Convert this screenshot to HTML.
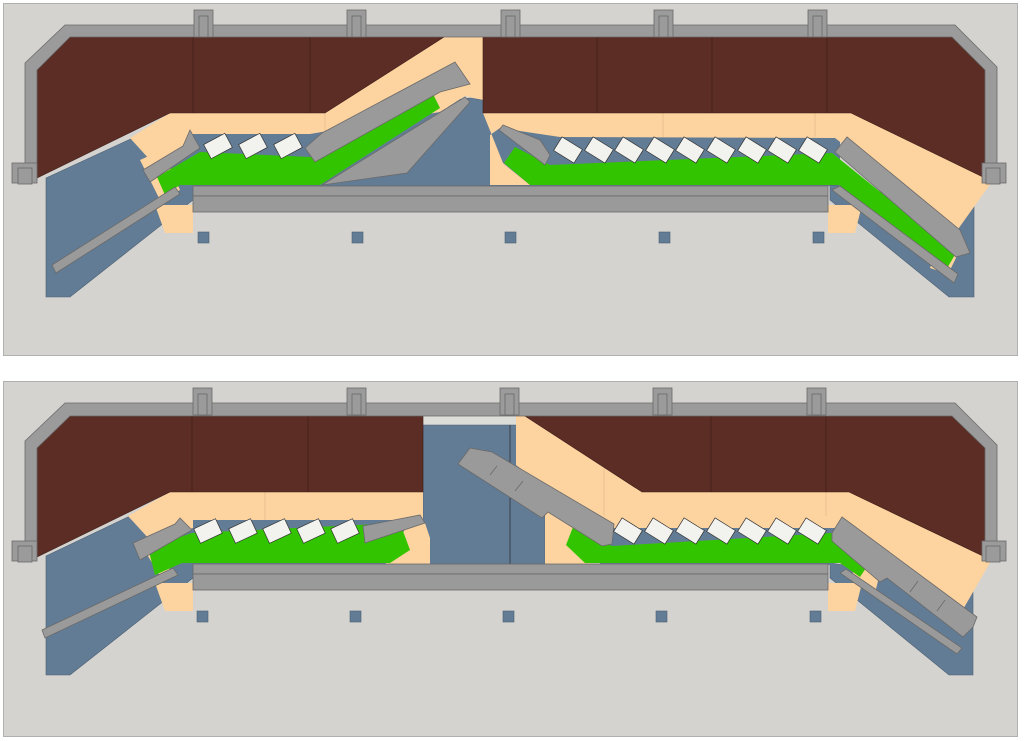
<!DOCTYPE html>
<html><head><meta charset="utf-8"><style>html,body{margin:0;padding:0;background:#fff}svg{display:block}</style></head>
<body>
<svg width="1024" height="741" viewBox="0 0 1024 741" xmlns="http://www.w3.org/2000/svg">
<defs>
<style>
.bg{fill:#d4d3cf;stroke:#b0b0ae;stroke-width:1}
.w{fill:#9b9b9b;stroke:#6a6a6a;stroke-width:0.8}
.br{fill:#5c2d25;stroke:#3e1e18;stroke-width:0.6}
.pe{fill:#fdd39f}
.bl{fill:#627c95;stroke:#4c5f72;stroke-width:0.6}
.bn{fill:#627c95}
.gr{fill:#33c400}
.g{fill:#9a9a9a;stroke:#6a6a6a;stroke-width:0.8}
.ch{fill:#f2f2ee;stroke:#333;stroke-width:0.7}
.ln{stroke:#3e1e18;stroke-width:0.7}
.pl{stroke:#e0b98a;stroke-width:0.7}
</style>
</defs>

<!-- ============ TOP PANEL ============ -->
<rect class="bg" x="3.5" y="3.5" width="1014" height="352"/>
<!-- blue areas -->
<polygon class="bl" points="46,178 135,137 193,133 470,98 483,100 500,112 500,185 193,200 70,297 46,297"/>
<rect class="bn" x="490" y="128" width="350" height="58"/>
<polygon class="bl" points="830,185 974,205 974,297 949,297 830,200"/>
<!-- peach -->
<polygon class="pe" points="130,138 170,113 325,113 444,37 483,37 483,100 465,96 440,112 310,134 193,134 193,150 150,160"/>
<polygon class="pe" points="483,113 851,113 987,178 991,183 956,232 835,138 560,137 500,128 490,135 490,185 530,185 503,163"/>
<polygon class="pe" points="140,160 162,150 180,190 160,200"/>
<polygon class="pe" points="155,205 193,205 193,233 165,233"/>
<polygon class="pe" points="828,205 862,205 855,233 828,233"/>
<polygon class="pe" points="940,240 960,250 948,274 930,268"/>
<polygon class="pe" points="428,86 445,85 448,108 438,110"/>
<line class="pl" x1="325" y1="113" x2="325" y2="134"/>
<line class="pl" x1="663" y1="113" x2="663" y2="137"/>
<line class="pl" x1="815" y1="113" x2="815" y2="137"/>
<!-- brown -->
<polygon class="br" points="37,178 37,70 70,37 444,37 325,113 170,113"/>
<polygon class="br" points="483,37 952,37 985,70 985,178 851,113 483,113"/>
<line class="ln" x1="193" y1="37" x2="193" y2="113"/>
<line class="ln" x1="310" y1="37" x2="310" y2="113"/>
<line class="ln" x1="597" y1="37" x2="597" y2="113"/>
<line class="ln" x1="712" y1="37" x2="712" y2="113"/>
<line class="ln" x1="827" y1="37" x2="827" y2="113"/>
<!-- green -->
<polygon class="gr" points="157,177 200,152 310,157 432,92 440,108 320,185 180,185 165,195"/>
<polygon class="gr" points="504,163 515,147 550,165 832,153 956,253 946,270 839,185 530,185"/>
<!-- gray pieces -->
<polygon class="g" points="322,185 465,97 470,102 407,173"/>
<polygon class="g" points="305,148 322,133 455,62 470,84 440,92 315,162"/>
<polygon class="g" points="143,170 183,146 190,130 200,148 150,182"/>
<polygon class="g" points="499,130 503,125 540,140 550,155 545,165"/>
<polygon class="g" points="835,152 847,137 960,230 970,253 956,257"/>
<polygon class="g" points="832,190 840,186 958,274 954,283"/>
<polygon class="g" points="52,265 175,187 180,194 56,273"/>
<!-- beam -->
<rect class="g" x="193" y="186" width="635" height="10"/>
<rect class="g" x="193" y="196" width="635" height="16"/>
<!-- chairs -->
<g class="ch">
<rect x="-12" y="-8" width="24" height="16" transform="translate(218,146) rotate(-28)"/>
<rect x="-12" y="-8" width="24" height="16" transform="translate(253,146) rotate(-28)"/>
<rect x="-12" y="-8" width="24" height="16" transform="translate(288,146) rotate(-28)"/>
<rect x="-12" y="-8" width="24" height="16" transform="translate(568,150) rotate(32)"/>
<rect x="-12" y="-8" width="24" height="16" transform="translate(599,150) rotate(32)"/>
<rect x="-12" y="-8" width="24" height="16" transform="translate(629,150) rotate(32)"/>
<rect x="-12" y="-8" width="24" height="16" transform="translate(660,150) rotate(32)"/>
<rect x="-12" y="-8" width="24" height="16" transform="translate(690,150) rotate(32)"/>
<rect x="-12" y="-8" width="24" height="16" transform="translate(721,150) rotate(32)"/>
<rect x="-12" y="-8" width="24" height="16" transform="translate(752,150) rotate(32)"/>
<rect x="-12" y="-8" width="24" height="16" transform="translate(782,150) rotate(32)"/>
<rect x="-12" y="-8" width="24" height="16" transform="translate(813,150) rotate(32)"/>
</g>
<!-- wall -->
<polygon class="w" points="25,178 25,63 65,25 955,25 997,67 997,178 985,178 985,70 952,37 70,37 37,70 37,178"/>
<rect class="w" x="12" y="163" width="25" height="20"/>
<rect class="w" x="18" y="168" width="14" height="16"/>
<rect class="w" x="982" y="163" width="24" height="20"/>
<rect class="w" x="986" y="168" width="14" height="16"/>
<g class="w">
<rect x="194" y="10" width="19" height="27"/><rect x="199" y="16" width="9" height="21"/>
<rect x="347" y="10" width="19" height="27"/><rect x="352" y="16" width="9" height="21"/>
<rect x="501" y="10" width="19" height="27"/><rect x="506" y="16" width="9" height="21"/>
<rect x="654" y="10" width="19" height="27"/><rect x="659" y="16" width="9" height="21"/>
<rect x="808" y="10" width="19" height="27"/><rect x="813" y="16" width="9" height="21"/>
</g>
<g class="bl">
<rect x="198" y="232" width="11" height="11"/><rect x="352" y="232" width="11" height="11"/>
<rect x="505" y="232" width="11" height="11"/><rect x="659" y="232" width="11" height="11"/>
<rect x="813" y="232" width="11" height="11"/>
</g>

<!-- ============ BOTTOM PANEL ============ -->
<rect class="bg" x="3.5" y="381.5" width="1014" height="355"/>
<g transform="translate(0,378)">
<!-- blue -->
<polygon class="bl" points="46,178 130,138 193,140 193,200 70,297 46,297"/>
<polygon class="bl" points="830,185 973,205 973,297 949,297 830,200"/>
<rect x="423" y="37" width="94" height="10" fill="#dcdcd8"/>
<polygon class="bl" points="423,47 517,47 517,87 545,110 545,187 423,187"/>
<line x1="510" y1="47" x2="510" y2="187" stroke="#333" stroke-width="0.8"/>
<rect class="bn" x="185" y="140" width="240" height="47"/>
<rect class="bn" x="600" y="138" width="235" height="49"/>
<!-- peach -->
<polygon class="pe" points="128,138 170,114 423,114 423,142 193,142 193,150 150,162"/>
<polygon class="pe" points="410,142 425,145 430,160 430,187 385,187"/>
<polygon class="pe" points="516,38 525,38 642,114 849,114 987,179 991,183 958,240 842,150 612,150 590,187 545,187 545,110 516,87"/>
<polygon class="pe" points="140,165 155,158 170,192 160,198"/>
<polygon class="pe" points="155,205 193,205 193,233 165,233"/>
<polygon class="pe" points="828,205 862,205 855,233 828,233"/>
<polygon class="pe" points="850,180 880,195 875,215 855,205"/>
<line class="pl" x1="265" y1="114" x2="265" y2="142"/>
<line class="pl" x1="604" y1="90" x2="604" y2="138"/>
<line class="pl" x1="826" y1="114" x2="826" y2="138"/>
<!-- brown -->
<polygon class="br" points="37,179 37,70 70,38 423,38 423,114 170,114"/>
<polygon class="br" points="525,38 952,38 985,70 985,179 849,114 642,114"/>
<line class="ln" x1="192" y1="38" x2="192" y2="114"/>
<line class="ln" x1="308" y1="38" x2="308" y2="114"/>
<line class="ln" x1="711" y1="38" x2="711" y2="114"/>
<line class="ln" x1="826" y1="38" x2="826" y2="114"/>
<!-- green -->
<polygon class="gr" points="148,170 192,155 400,145 410,172 390,185 182,185 155,197"/>
<polygon class="gr" points="566,167 573,149 612,168 832,155 870,184 860,199 840,185 585,185"/>
<!-- gray -->
<polygon class="g" points="458,86 470,70 492,74 614,146 612,166 602,168 548,134 542,140"/>
<line x1="490" y1="97" x2="497" y2="88" stroke="#6a6a6a" stroke-width="0.8"/>
<line x1="515" y1="113" x2="523" y2="103" stroke="#6a6a6a" stroke-width="0.8"/>
<polygon class="g" points="133,165 175,146 180,140 192,152 140,182"/>
<polygon class="g" points="363,148 420,137 425,145 365,165"/>
<polygon class="g" points="832,155 842,139 977,239 973,249 963,259 887,200 880,204 832,163"/>
<line x1="910" y1="214" x2="918" y2="203" stroke="#6a6a6a" stroke-width="0.8"/>
<line x1="937" y1="233" x2="945" y2="222" stroke="#6a6a6a" stroke-width="0.8"/>
<polygon class="g" points="840,195 846,191 962,270 957,276"/>
<polygon class="g" points="42,252 173,190 178,197 45,260"/>
<!-- beam -->
<rect class="g" x="193" y="186" width="635" height="10"/>
<rect class="g" x="193" y="196" width="635" height="16"/>
<!-- chairs -->
<g class="ch">
<rect x="-12" y="-8" width="24" height="16" transform="translate(208,153) rotate(-25)"/>
<rect x="-12" y="-8" width="24" height="16" transform="translate(243,153) rotate(-25)"/>
<rect x="-12" y="-8" width="24" height="16" transform="translate(277,153) rotate(-25)"/>
<rect x="-12" y="-8" width="24" height="16" transform="translate(311,153) rotate(-25)"/>
<rect x="-12" y="-8" width="24" height="16" transform="translate(345,153) rotate(-25)"/>
<rect x="-12" y="-8" width="24" height="16" transform="translate(628,153) rotate(32)"/>
<rect x="-12" y="-8" width="24" height="16" transform="translate(659,153) rotate(32)"/>
<rect x="-12" y="-8" width="24" height="16" transform="translate(690,153) rotate(32)"/>
<rect x="-12" y="-8" width="24" height="16" transform="translate(721,153) rotate(32)"/>
<rect x="-12" y="-8" width="24" height="16" transform="translate(752,153) rotate(32)"/>
<rect x="-12" y="-8" width="24" height="16" transform="translate(782,153) rotate(32)"/>
<rect x="-12" y="-8" width="24" height="16" transform="translate(812,153) rotate(32)"/>
</g>
<!-- wall -->
<polygon class="w" points="25,178 25,63 65,25 955,25 997,67 997,178 985,178 985,70 952,38 70,38 37,70 37,178"/>
<rect class="w" x="12" y="163" width="25" height="20"/>
<rect class="w" x="18" y="168" width="14" height="16"/>
<rect class="w" x="982" y="163" width="24" height="20"/>
<rect class="w" x="986" y="168" width="14" height="16"/>
<g class="w">
<rect x="193" y="10" width="19" height="27"/><rect x="198" y="16" width="9" height="21"/>
<rect x="347" y="10" width="19" height="27"/><rect x="352" y="16" width="9" height="21"/>
<rect x="500" y="10" width="19" height="27"/><rect x="505" y="16" width="9" height="21"/>
<rect x="653" y="10" width="19" height="27"/><rect x="658" y="16" width="9" height="21"/>
<rect x="807" y="10" width="19" height="27"/><rect x="812" y="16" width="9" height="21"/>
</g>
<g class="bl">
<rect x="197" y="233" width="11" height="11"/><rect x="350" y="233" width="11" height="11"/>
<rect x="503" y="233" width="11" height="11"/><rect x="656" y="233" width="11" height="11"/>
<rect x="810" y="233" width="11" height="11"/>
</g>
</g>
</svg>
</body></html>
